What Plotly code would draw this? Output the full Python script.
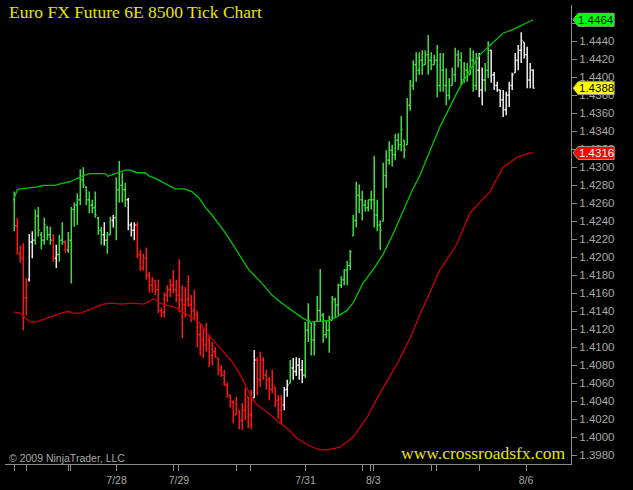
"""
Euro FX Future 6E 8500 tick chart, rebuilt with Plotly.
"""

import plotly.graph_objects as go

# Bars (one per 8500 ticks), x = bar number
bar_open = [
    1.4264, 1.4235, 1.4204, 1.4199, 1.4155, 1.4175, 1.4217, 1.4219, 1.4246, 1.4225,
    1.4219, 1.4233, 1.4225, 1.4219, 1.4199, 1.4203, 1.4219, 1.4217, 1.4208, 1.4219,
    1.4253, 1.4258, 1.4264, 1.4286, 1.4278, 1.4264, 1.4258, 1.4255, 1.4244, 1.4230,
    1.4225, 1.4219, 1.4225, 1.4241, 1.4244, 1.4275, 1.4280, 1.4275, 1.4264, 1.4236,
    1.4230, 1.4236, 1.4203, 1.4188, 1.4199, 1.4180, 1.4169, 1.4174, 1.4164, 1.4141,
    1.4139, 1.4158, 1.4164, 1.4169, 1.4164, 1.4158, 1.4153, 1.4147, 1.4153, 1.4147,
    1.4141, 1.4136, 1.4114, 1.4108, 1.4103, 1.4108, 1.4091, 1.4095, 1.4088, 1.4075,
    1.4069, 1.4058, 1.4047, 1.4039, 1.4025, 1.4030, 1.4019, 1.4030, 1.4045, 1.4025,
    1.4044, 1.4086, 1.4064, 1.4086, 1.4069, 1.4064, 1.4053, 1.4056, 1.4041, 1.4030,
    1.4036, 1.4053, 1.4060, 1.4077, 1.4073, 1.4080, 1.4075, 1.4069, 1.4119, 1.4127,
    1.4108, 1.4129, 1.4141, 1.4136, 1.4114, 1.4119, 1.4130, 1.4153, 1.4147, 1.4169,
    1.4175, 1.4186, 1.4191, 1.4224, 1.4241, 1.4269, 1.4264, 1.4258, 1.4255, 1.4264,
    1.4264, 1.4247, 1.4236, 1.4240, 1.4291, 1.4308, 1.4319, 1.4314, 1.4330, 1.4325,
    1.4330, 1.4325, 1.4369, 1.4391, 1.4414, 1.4408, 1.4419, 1.4414, 1.4425, 1.4419,
    1.4414, 1.4419, 1.4391, 1.4408, 1.4391, 1.4380, 1.4391, 1.4403, 1.4425, 1.4419,
    1.4397, 1.4408, 1.4403, 1.4419, 1.4391, 1.4408, 1.4386, 1.4397, 1.4408, 1.4430,
    1.4403, 1.4391, 1.4386, 1.4375, 1.4364, 1.4380, 1.4391, 1.4405, 1.4419, 1.4430,
    1.4439, 1.4425, 1.4397, 1.4408,
]
bar_high = [
    1.4273, 1.4244, 1.4213, 1.4216, 1.4177, 1.4226, 1.4229, 1.4253, 1.4256, 1.4228,
    1.4244, 1.4235, 1.4234, 1.4226, 1.4214, 1.4225, 1.4239, 1.4219, 1.4228, 1.4256,
    1.4261, 1.4271, 1.4298, 1.4300, 1.4279, 1.4273, 1.4264, 1.4273, 1.4245, 1.4234,
    1.4239, 1.4228, 1.4245, 1.4247, 1.4289, 1.4307, 1.4294, 1.4283, 1.4266, 1.4239,
    1.4239, 1.4239, 1.4208, 1.4204, 1.4211, 1.4184, 1.4178, 1.4174, 1.4175, 1.4144,
    1.4161, 1.4169, 1.4176, 1.4186, 1.4175, 1.4198, 1.4169, 1.4167, 1.4180, 1.4158,
    1.4164, 1.4141, 1.4127, 1.4121, 1.4127, 1.4114, 1.4106, 1.4100, 1.4088, 1.4080,
    1.4075, 1.4061, 1.4047, 1.4041, 1.4045, 1.4030, 1.4038, 1.4055, 1.4045, 1.4053,
    1.4097, 1.4089, 1.4095, 1.4089, 1.4075, 1.4067, 1.4075, 1.4056, 1.4047, 1.4047,
    1.4056, 1.4064, 1.4086, 1.4088, 1.4089, 1.4088, 1.4086, 1.4128, 1.4149, 1.4127,
    1.4129, 1.4157, 1.4187, 1.4138, 1.4130, 1.4135, 1.4157, 1.4155, 1.4171, 1.4179,
    1.4187, 1.4196, 1.4208, 1.4247, 1.4284, 1.4281, 1.4274, 1.4264, 1.4264, 1.4274,
    1.4313, 1.4264, 1.4241, 1.4305, 1.4319, 1.4329, 1.4325, 1.4337, 1.4338, 1.4357,
    1.4330, 1.4377, 1.4397, 1.4419, 1.4428, 1.4428, 1.4430, 1.4430, 1.4447, 1.4428,
    1.4425, 1.4436, 1.4427, 1.4427, 1.4410, 1.4399, 1.4411, 1.4433, 1.4430, 1.4428,
    1.4417, 1.4416, 1.4433, 1.4430, 1.4427, 1.4427, 1.4411, 1.4416, 1.4440, 1.4430,
    1.4406, 1.4395, 1.4386, 1.4386, 1.4384, 1.4395, 1.4405, 1.4427, 1.4436, 1.4450,
    1.4439, 1.4434, 1.4416, 1.4409,
]
bar_low = [
    1.4229, 1.4203, 1.4194, 1.4119, 1.4135, 1.4173, 1.4199, 1.4214, 1.4223, 1.4209,
    1.4214, 1.4219, 1.4214, 1.4195, 1.4188, 1.4195, 1.4214, 1.4205, 1.4205, 1.4171,
    1.4234, 1.4236, 1.4258, 1.4277, 1.4258, 1.4249, 1.4249, 1.4244, 1.4225, 1.4214,
    1.4213, 1.4204, 1.4225, 1.4233, 1.4219, 1.4261, 1.4261, 1.4256, 1.4230, 1.4223,
    1.4219, 1.4199, 1.4185, 1.4185, 1.4175, 1.4161, 1.4161, 1.4158, 1.4138, 1.4133,
    1.4133, 1.4150, 1.4156, 1.4160, 1.4150, 1.4139, 1.4110, 1.4133, 1.4145, 1.4128,
    1.4130, 1.4100, 1.4091, 1.4088, 1.4095, 1.4078, 1.4080, 1.4089, 1.4069, 1.4067,
    1.4057, 1.4044, 1.4033, 1.4016, 1.4025, 1.4009, 1.4008, 1.4019, 1.4010, 1.4009,
    1.4044, 1.4047, 1.4056, 1.4064, 1.4053, 1.4041, 1.4049, 1.4034, 1.4021, 1.4016,
    1.4030, 1.4045, 1.4060, 1.4064, 1.4068, 1.4064, 1.4060, 1.4066, 1.4106, 1.4091,
    1.4091, 1.4129, 1.4128, 1.4105, 1.4110, 1.4094, 1.4130, 1.4133, 1.4135, 1.4166,
    1.4169, 1.4169, 1.4186, 1.4224, 1.4233, 1.4249, 1.4241, 1.4251, 1.4251, 1.4253,
    1.4233, 1.4229, 1.4208, 1.4240, 1.4277, 1.4303, 1.4301, 1.4308, 1.4319, 1.4318,
    1.4310, 1.4325, 1.4363, 1.4386, 1.4395, 1.4403, 1.4403, 1.4414, 1.4403, 1.4408,
    1.4414, 1.4378, 1.4384, 1.4384, 1.4369, 1.4375, 1.4391, 1.4395, 1.4411, 1.4391,
    1.4394, 1.4395, 1.4403, 1.4384, 1.4386, 1.4378, 1.4369, 1.4384, 1.4399, 1.4394,
    1.4386, 1.4384, 1.4367, 1.4356, 1.4358, 1.4367, 1.4386, 1.4405, 1.4408, 1.4416,
    1.4421, 1.4388, 1.4388, 1.4388,
]
bar_close = [
    1.4235, 1.4204, 1.4199, 1.4155, 1.4169, 1.4217, 1.4219, 1.4246, 1.4230, 1.4219,
    1.4236, 1.4225, 1.4219, 1.4199, 1.4203, 1.4219, 1.4217, 1.4208, 1.4219, 1.4253,
    1.4258, 1.4264, 1.4286, 1.4280, 1.4264, 1.4258, 1.4255, 1.4247, 1.4230, 1.4225,
    1.4219, 1.4225, 1.4241, 1.4244, 1.4275, 1.4280, 1.4275, 1.4264, 1.4236, 1.4230,
    1.4236, 1.4203, 1.4188, 1.4199, 1.4180, 1.4169, 1.4175, 1.4164, 1.4141, 1.4139,
    1.4158, 1.4164, 1.4169, 1.4164, 1.4158, 1.4153, 1.4147, 1.4153, 1.4147, 1.4141,
    1.4136, 1.4114, 1.4108, 1.4103, 1.4108, 1.4091, 1.4095, 1.4089, 1.4075, 1.4069,
    1.4058, 1.4047, 1.4039, 1.4025, 1.4036, 1.4019, 1.4030, 1.4047, 1.4025, 1.4041,
    1.4086, 1.4064, 1.4086, 1.4069, 1.4064, 1.4053, 1.4058, 1.4041, 1.4030, 1.4036,
    1.4053, 1.4058, 1.4077, 1.4073, 1.4080, 1.4075, 1.4069, 1.4119, 1.4130, 1.4108,
    1.4125, 1.4141, 1.4136, 1.4114, 1.4119, 1.4130, 1.4153, 1.4147, 1.4169, 1.4175,
    1.4186, 1.4191, 1.4206, 1.4241, 1.4269, 1.4264, 1.4258, 1.4255, 1.4264, 1.4264,
    1.4247, 1.4236, 1.4230, 1.4291, 1.4308, 1.4319, 1.4314, 1.4330, 1.4325, 1.4342,
    1.4319, 1.4369, 1.4391, 1.4414, 1.4408, 1.4419, 1.4414, 1.4425, 1.4419, 1.4414,
    1.4419, 1.4391, 1.4408, 1.4391, 1.4380, 1.4391, 1.4403, 1.4425, 1.4419, 1.4397,
    1.4408, 1.4403, 1.4419, 1.4391, 1.4408, 1.4386, 1.4397, 1.4408, 1.4430, 1.4403,
    1.4391, 1.4386, 1.4375, 1.4364, 1.4380, 1.4391, 1.4403, 1.4419, 1.4430, 1.4441,
    1.4425, 1.4397, 1.4408, 1.4388,
]
# bar colouring as runs: g = trend up, r = trend down, w = neutral
color_runs = [
    ("g", 1), ("r", 4), ("w", 2), ("g", 6), ("r", 1), ("w", 1), ("g", 2), ("r", 1),
    ("g", 12), ("w", 1), ("g", 2), ("w", 1), ("g", 4), ("w", 3), ("r", 39), ("w", 1),
    ("r", 9), ("w", 2), ("g", 1), ("w", 4), ("g", 58), ("w", 2), ("g", 2), ("w", 15),
]

# Upper / lower bands (bar position, price)
upper_x = [0, 1, 1.9, 5.2, 7.2, 9.6, 13.6, 15.6, 18.6, 21.2, 23.2, 25.2, 30.2, 31.2,
           34.6, 37, 38.6, 40.9, 43.6, 45.2, 46.9, 49.2, 51.6, 53.6, 56.6, 59.2, 61.6,
           63.6, 65.9, 67.6, 70.2, 72.9, 75.6, 78.2, 82.6, 85.9, 89.2, 92.6, 95.9, 98.6,
           101.9, 105.2, 108.6, 110.9, 112.9, 116.2, 119.6, 122.9, 126.2, 129.6, 132.6,
           135.2, 137.6, 141.9, 147.6, 151.9, 155.2, 159.6, 162.9, 166.2, 170.9, 173]
upper_band = [1.4266, 1.4275, 1.4276, 1.4277, 1.4278, 1.4280, 1.4280, 1.4282, 1.4284,
              1.4288, 1.4291, 1.4293, 1.4293, 1.4290, 1.4294, 1.4297, 1.4297, 1.4294,
              1.4294, 1.4290, 1.4288, 1.4284, 1.4279, 1.4276, 1.4276, 1.4273, 1.4266,
              1.4256, 1.4247, 1.4240, 1.4228, 1.4214, 1.4199, 1.4186, 1.4171, 1.4158,
              1.4149, 1.4141, 1.4133, 1.4128, 1.4129, 1.4130, 1.4136, 1.4141, 1.4149,
              1.4171, 1.4186, 1.4203, 1.4225, 1.4251, 1.4274, 1.4291, 1.4311, 1.4345,
              1.4383, 1.4408, 1.4425, 1.4439, 1.4449, 1.4453, 1.4461, 1.4464]
lower_x = [0, 1.9, 3.6, 5.2, 7.2, 8.9, 11.2, 13.6, 15.6, 17.9, 19.6, 22.2, 25.2, 27.2,
           29.6, 32.6, 35.9, 39.2, 43.2, 44.9, 46.6, 48.2, 50.2, 53.2, 55.9, 59.2, 61.9,
           64.2, 67.6, 69.2, 72.6, 75.9, 78.6, 80.9, 84.2, 88.2, 91.6, 94.2, 98.6, 101.9,
           104.2, 108.6, 112.9, 117.6, 121.9, 127.9, 131.9, 135.2, 141.9, 147.6, 151.9,
           155.2, 158.6, 162.9, 167.6, 172, 173]
lower_band = [1.4139, 1.4138, 1.4133, 1.4128, 1.4128, 1.4130, 1.4133, 1.4136, 1.4138,
              1.4140, 1.4138, 1.4138, 1.4142, 1.4145, 1.4148, 1.4149, 1.4148, 1.4149,
              1.4148, 1.4151, 1.4154, 1.4150, 1.4147, 1.4145, 1.4140, 1.4133, 1.4127,
              1.4116, 1.4103, 1.4097, 1.4084, 1.4066, 1.4047, 1.4036, 1.4028, 1.4017,
              1.4008, 1.3999, 1.3990, 1.3986, 1.3986, 1.3989, 1.4000, 1.4022, 1.4049,
              1.4083, 1.4110, 1.4136, 1.4186, 1.4215, 1.4249, 1.4261, 1.4273, 1.4300,
              1.4311, 1.4316, 1.4316]

# Session marks on the time axis (bar position) and the dated ones
session_ticks = [0, 3.9, 18, 18.9, 34.1, 53, 54.9, 74.1, 78.9, 97.1,
                 116.1, 118.9, 119.7, 139.1, 140.8, 155.2, 170.6]
date_labels = {34.1: "7/28", 54.9: "7/29", 97.1: "7/31", 119.7: "8/3", 170.6: "8/6"}

# Price axis ticks
price_ticks = [1.3980, 1.4000, 1.4020, 1.4040, 1.4060, 1.4080, 1.4100, 1.4120, 1.4140,
               1.4160, 1.4180, 1.4200, 1.4220, 1.4240, 1.4260, 1.4280, 1.4300, 1.4320,
               1.4340, 1.4360, 1.4380, 1.4400, 1.4420, 1.4440, 1.4460]

BAR_COLORS = {"g": "#3fdc3f", "r": "#ff1414", "w": "#ebebeb"}
AXIS_GRAY = "#8c8c8c"
TEXT_GRAY = "#a8a8a8"
YELLOW = "#e6e600"

Y_MIN, Y_MAX = 1.39703, 1.44804
X_MIN, X_MAX = -3.1, 185.6
PLOT_H = 459  # px height of plot area

bar_colors = [c for c, n in color_runs for _ in range(n)]
bar_x = list(range(len(bar_close)))

fig = go.Figure()

for key in ["g", "r", "w"]:
    idx = [i for i, c in enumerate(bar_colors) if c == key]
    col = BAR_COLORS[key]
    fig.add_trace(go.Ohlc(
        x=[bar_x[i] for i in idx],
        open=[bar_open[i] for i in idx],
        high=[bar_high[i] for i in idx],
        low=[bar_low[i] for i in idx],
        close=[bar_close[i] for i in idx],
        increasing=dict(line=dict(color=col, width=1.5)),
        decreasing=dict(line=dict(color=col, width=1.5)),
        tickwidth=0.45,
        showlegend=False,
        hoverinfo="skip",
    ))

fig.add_trace(go.Scatter(
    x=upper_x, y=upper_band, mode="lines",
    line=dict(color="#00c400", width=1.3),
    showlegend=False, hoverinfo="skip",
))
fig.add_trace(go.Scatter(
    x=lower_x, y=lower_band, mode="lines",
    line=dict(color="#c80000", width=1.3),
    showlegend=False, hoverinfo="skip",
))

# price tags on the right axis
half_h = 6.5 * (Y_MAX - Y_MIN) / PLOT_H
tags = [
    (upper_band[-1], "#00ff00", "black"),
    (bar_close[-1], "#ffff00", "black"),
    (lower_band[-1], "#ff0000", "white"),
]
tip_x, box_l, box_r = 1.0035, 1.0125, 1.0762
for val, fill, txt in tags:
    fig.add_shape(
        type="path", xref="paper", yref="y", layer="above",
        path=(f"M {tip_x},{val} L {box_l},{val + half_h} L {box_r},{val + half_h} "
              f"L {box_r},{val - half_h} L {box_l},{val - half_h} Z"),
        fillcolor=fill, line=dict(color="#9a9a9a", width=1),
    )
    fig.add_annotation(
        x=(box_l + box_r) / 2, y=val, xref="paper", yref="y",
        text=f"{val:.4f}", showarrow=False, xanchor="center", yanchor="middle",
        font=dict(family="Liberation Sans, Arial", size=11.5, color=txt),
    )

fig.add_annotation(
    x=0.0035, y=0.9845, xref="paper", yref="paper", xanchor="left", yanchor="middle",
    text="Euro FX Future 6E 8500 Tick Chart", showarrow=False,
    font=dict(family="Liberation Serif, Times New Roman", size=17.5, color=YELLOW),
)
fig.add_annotation(
    x=0.0035, y=0.012, xref="paper", yref="paper", xanchor="left", yanchor="middle",
    text="© 2009 NinjaTrader, LLC", showarrow=False,
    font=dict(family="Liberation Sans, Arial", size=10.5, color=TEXT_GRAY),
)
fig.add_annotation(
    x=0.9935, y=0.025, xref="paper", yref="paper", xanchor="right", yanchor="middle",
    text="www.crossroadsfx.com", showarrow=False,
    font=dict(family="Liberation Serif, Times New Roman", size=17.5, color=YELLOW),
)

fig.update_layout(
    width=633,
    height=490,
    margin=dict(l=5, r=62, t=5, b=26),
    paper_bgcolor="black",
    plot_bgcolor="black",
    showlegend=False,
    xaxis=dict(
        range=[X_MIN, X_MAX],
        automargin=False,
        rangeslider=dict(visible=False),
        showgrid=False, zeroline=False,
        showline=True, linecolor=AXIS_GRAY, linewidth=1,
        ticks="outside", ticklen=6, tickcolor=AXIS_GRAY, tickwidth=1,
        tickvals=session_ticks,
        ticktext=[date_labels.get(t, "") for t in session_ticks],
        tickfont=dict(family="Liberation Sans, Arial", size=10.5, color=TEXT_GRAY),
    ),
    yaxis=dict(
        range=[Y_MIN, Y_MAX],
        automargin=False,
        side="right",
        showgrid=False, zeroline=False,
        showline=True, linecolor=AXIS_GRAY, linewidth=1,
        ticks="outside", ticklen=5, tickcolor=AXIS_GRAY, tickwidth=1,
        tickvals=price_ticks, tickformat=".4f",
        tickfont=dict(family="Liberation Sans, Arial", size=11.5, color=TEXT_GRAY),
    ),
)

# page body has a default margin; drop it so the figure sits at the window corner
fig.write_html(
    "out.html",
    config={"displayModeBar": False},
    post_script="document.body.style.margin='0';",
)
